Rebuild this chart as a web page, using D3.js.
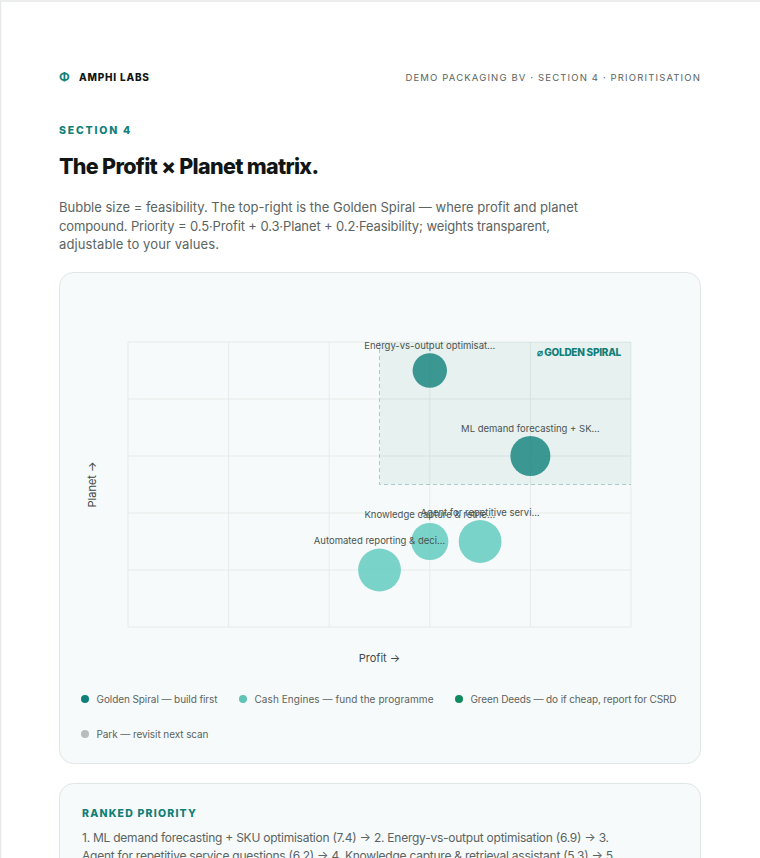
<!DOCTYPE html>
<html>
<head>
<meta charset="utf-8">
<script src="https://cdn.jsdelivr.net/npm/d3@7"></script>
<style>
html, body { margin: 0; padding: 0; background: #fff; overflow: hidden; }
svg { display: block; }
text { font-family: Inter, "Noto Sans", sans-serif; }
</style>
</head>
<body>
<svg id="page" width="760" height="858"></svg>
<script>
// matrix data
const names = ["ML demand forecasting + SK…", "Energy-vs-output optimisat…", "Agent for repetitive servi…", "Knowledge capture & retrie…", "Automated reporting & deci…"];
const profit = [8, 6, 7, 6, 5];
const planet = [6, 9, 3, 3, 2];
const feasibility = [8, 6, 9, 7, 9];
const groups = ["golden", "golden", "cash", "cash", "cash"];

const legendNames = ["Golden Spiral — build first", "Cash Engines — fund the programme", "Green Deeds — do if cheap, report for CSRD", "Park — revisit next scan"];
const legendColors = ["#0f7f78", "#5ec4b6", "#0f8a5f", "#b8bcbc"];
const groupColors = { golden: "#0f817a", cash: "#5ac9bc" };

const introLines = [
    "Bubble size = feasibility. The top-right is the Golden Spiral — where profit and planet",
    "compound. Priority = 0.5·Profit + 0.3·Planet + 0.2·Feasibility; weights transparent,",
    "adjustable to your values."
];
const rankedLines = [
    "1. ML demand forecasting + SKU optimisation (7.4) → 2. Energy-vs-output optimisation (6.9) → 3.",
    "Agent for repetitive service questions (6.2) → 4. Knowledge capture & retrieval assistant (5.3) → 5."
];

const svg = d3.select("#page");
const ink = "#111615", grey = "#5a6462", teal = "#0f7f78";

// helper; fit squeezes a line to the width it has in the reference
const label = (g, x, y, str, size, fill, weight, spacing, anchor, fit) => {
    const t = g.append("text")
        .attr("x", x).attr("y", y).text(str)
        .attr("font-size", size).attr("fill", fill)
        .attr("font-weight", weight || 400)
        .attr("letter-spacing", spacing || 0)
        .attr("text-anchor", anchor || "start");
    if (fit) t.attr("textLength", fit).attr("lengthAdjust", "spacing");
    return t;
};

// page edge
svg.append("path").attr("d", "M0.5 858V1H760").attr("fill", "none").attr("stroke", "#e6e9e8").attr("stroke-width", 1.5);

// header
label(svg, 59, 81, "Φ", 12, teal, 700);
label(svg, 79, 80.5, "AMPHI LABS", 10, ink, 800, 0.8);
label(svg, 701, 80.5, "DEMO PACKAGING BV · SECTION 4 · PRIORITISATION", 9.5, grey, 400, 1.15, "end");
label(svg, 59, 134, "SECTION 4", 10.5, teal, 800, 1.8);
label(svg, 59, 174, "The Profit × Planet matrix.", 21.5, ink, 800, -0.68);
const introFit = [519, 491, 160];
introLines.forEach((t, i) => label(svg, 59, 212 + i * 18.7, t, 13, grey, 400, 0, "start", introFit[i]));

// cards
const cards = [[59.5, 272.5, 641, 491], [59.5, 783.5, 641, 120]];
svg.selectAll("rect.card").data(cards).join("rect").attr("class", "card")
    .attr("x", d => d[0]).attr("y", d => d[1]).attr("width", d => d[2]).attr("height", d => d[3])
    .attr("rx", 14).attr("fill", "#f7fafa").attr("stroke", "#e0e6e4");

// plot
const x = d3.scaleLinear().domain([0, 10]).range([128, 631]);
const y = d3.scaleLinear().domain([0, 10]).range([627, 342]);
const r = d3.scaleLinear().domain([0, 10]).range([8.8, 22.8]);
const ticks = d3.range(0, 11, 2);

const grid = svg.append("g").attr("stroke", "#e6ebe9").attr("stroke-width", 1);
grid.selectAll("line.v").data(ticks).join("line").attr("class", "v")
    .attr("x1", d => x(d)).attr("x2", d => x(d)).attr("y1", y(0)).attr("y2", y(10));
grid.selectAll("line.h").data(ticks).join("line").attr("class", "h")
    .attr("y1", d => y(d)).attr("y2", d => y(d)).attr("x1", x(0)).attr("x2", x(10));

// golden spiral zone, dashes only show on the left and bottom edge
svg.append("rect")
    .attr("x", x(5)).attr("y", y(10))
    .attr("width", x(10) - x(5)).attr("height", y(5) - y(10))
    .attr("fill", teal).attr("fill-opacity", 0.07);
svg.append("path")
    .attr("d", d3.line()([[x(5), y(10)], [x(5), y(5)], [x(10), y(5)]]))
    .attr("fill", "none").attr("stroke", "#a8cccb").attr("stroke-dasharray", "4 3");
label(svg, x(10) - 10, 356, "⌀ GOLDEN SPIRAL", 10, teal, 800, -0.25, "end");

const rows = names.map((n, i) => ({ n, px: profit[i], py: planet[i], f: feasibility[i], g: groups[i] }));
svg.selectAll("circle.bubble").data(rows).join("circle").attr("class", "bubble")
    .attr("cx", d => x(d.px)).attr("cy", d => y(d.py)).attr("r", d => r(d.f))
    .attr("fill", d => groupColors[d.g]).attr("fill-opacity", 0.8);
rows.forEach(d => label(svg, x(d.px), y(d.py) - r(d.f) - 4.5, d.n, 9.5, "#4a5452", 400, 0, "middle"));

label(svg, x(5), 662, "Profit →", 11, "#3f4947", 400, 0, "middle");
label(svg, 0, 0, "Planet →", 11, "#3f4947", 400, 0, "middle")
    .attr("transform", "translate(96," + y(5) + ") rotate(-90)");

// legend
const legendX = [85, 243, 459, 85];
const legendY = [699, 699, 699, 734];
const legendFit = [121, 179, 206, 112];
legendNames.forEach((t, i) => {
    svg.append("circle").attr("cx", legendX[i]).attr("cy", legendY[i]).attr("r", 4).attr("fill", legendColors[i]);
    label(svg, legendX[i] + 11.5, legendY[i] + 3.6, t, 10, grey, 400, 0, "start", legendFit[i]);
});

// ranked priority
label(svg, 82, 817, "RANKED PRIORITY", 10.5, teal, 800, 1.2);
const rankedFit = [527, 534];
rankedLines.forEach((t, i) => label(svg, 82, 842 + i * 17.5, t, 12, grey, 400, 0, "start", rankedFit[i]));
</script>
</body>
</html>
